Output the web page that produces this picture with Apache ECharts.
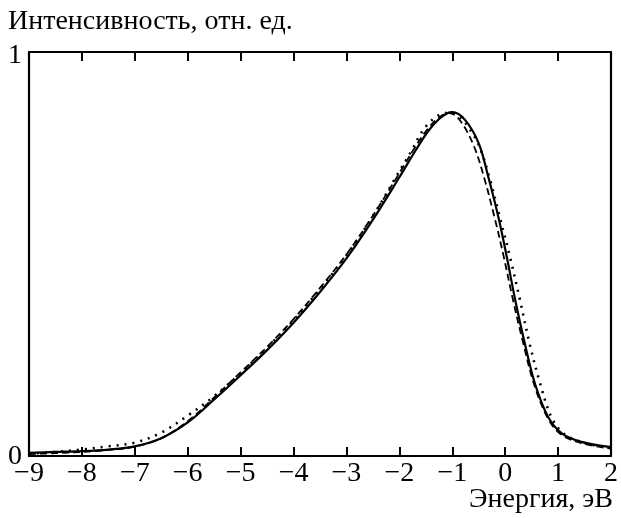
<!DOCTYPE html>
<html>
<head>
<meta charset="utf-8">
<script src="https://cdn.jsdelivr.net/npm/echarts@6/dist/echarts.min.js"></script>
<style>
html,body{margin:0;padding:0;background:#fff;}
#c{width:621px;height:518px;}
</style>
</head>
<body>
<div id="c"></div>
<script>
// Axis text
const yTitle = 'Интенсивность, отн. ед.';
const xTitle = 'Энергия, эВ';
const xTickValues = [-9, -8, -7, -6, -5, -4, -3, -2, -1, 0, 1, 2];
const xTickLabels = ['\u22129', '\u22128', '\u22127', '\u22126', '\u22125', '\u22124', '\u22123', '\u22122', '\u22121', '0', '1', '2'];
const yTickLabels = ['0', '1'];

// Solid curve
const solidX = [-9, -8.5, -8, -7.5, -7, -6.5, -6, -5.5, -5, -4.5, -4, -3.5, -3, -2.5, -2, -1.7, -1.45, -1.25, -1.1, -1.0, -0.76, -0.5, -0.32, -0.13, 0.03, 0.19, 0.37, 0.56, 0.81, 1.07, 1.44, 2.0];
const solidY = [0.008, 0.010, 0.012, 0.016, 0.024, 0.044, 0.083, 0.140, 0.200, 0.262, 0.330, 0.406, 0.489, 0.585, 0.690, 0.755, 0.805, 0.834, 0.848, 0.851, 0.832, 0.774, 0.691, 0.592, 0.493, 0.386, 0.279, 0.180, 0.097, 0.056, 0.035, 0.022];

// Dashed curve
const dashedX = [-9, -8.5, -8, -7.5, -7, -6.5, -6, -5.5, -5, -4.5, -4, -3.5, -3, -2.5, -2, -1.7, -1.45, -1.25, -1.05, -0.85, -0.6, -0.4, -0.2, -0.03, 0.15, 0.34, 0.54, 0.8, 1.05, 1.44, 2.0];
const dashedY = [0.005, 0.007, 0.010, 0.015, 0.023, 0.044, 0.086, 0.145, 0.207, 0.270, 0.339, 0.416, 0.499, 0.595, 0.700, 0.765, 0.812, 0.838, 0.849, 0.830, 0.770, 0.690, 0.590, 0.495, 0.385, 0.280, 0.180, 0.095, 0.054, 0.032, 0.018];

// Dotted curve
const dottedX = [-9, -8.5, -8, -7.5, -7, -6.5, -6, -5.5, -5, -4.5, -4, -3.5, -3, -2.5, -2, -1.75, -1.6, -1.45, -1.3, -1.15, -1.0, -0.85, -0.7, -0.5, -0.3, -0.1, 0.09, 0.28, 0.46, 0.66, 0.87, 1.1, 1.45, 2.0];
const dottedY = [0.006, 0.010, 0.016, 0.024, 0.033, 0.058, 0.100, 0.148, 0.205, 0.268, 0.336, 0.413, 0.497, 0.594, 0.705, 0.760, 0.797, 0.823, 0.840, 0.849, 0.848, 0.838, 0.815, 0.770, 0.690, 0.590, 0.493, 0.386, 0.279, 0.180, 0.097, 0.056, 0.034, 0.020];

const pairs = (xs, ys) => xs.map((x, i) => [x, ys[i]]);
const FONT = 'Liberation Serif';
const FS = 28;
const txt = {fontFamily: FONT, fontSize: FS, fontWeight: 'normal', color: '#000'};

const chart = echarts.init(document.getElementById('c'), null, {renderer: 'canvas'});
const xLabel = v => { const i = xTickValues.indexOf(v); return i >= 0 ? xTickLabels[i] : ''; };

chart.setOption({
  animation: false,
  backgroundColor: '#fff',
  textStyle: {fontFamily: FONT},
  title: [
    {text: yTitle, left: 8, top: 8, padding: 0, textStyle: txt},
    {text: xTitle, right: 8, top: 486, padding: 0, textStyle: txt}
  ],
  grid: {left: 29, right: 8, top: 52, bottom: 62},
  xAxis: [
    {type: 'value', position: 'bottom', min: -9, max: 2, interval: 1,
     axisLine: {onZero: false, lineStyle: {color: '#000', width: 2.2}},
     axisTick: {inside: true, length: 9, lineStyle: {color: '#000', width: 2}},
     axisLabel: {formatter: xLabel, fontFamily: FONT, fontSize: FS, color: '#000', margin: 4},
     splitLine: {show: false}},
    {type: 'value', position: 'top', min: -9, max: 2, interval: 1,
     axisLine: {onZero: false, lineStyle: {color: '#000', width: 2.2}},
     axisTick: {inside: true, length: 9, lineStyle: {color: '#000', width: 2}},
     axisLabel: {show: false}, splitLine: {show: false}}
  ],
  yAxis: [
    {type: 'value', position: 'left', min: 0, max: 1, interval: 1,
     axisLine: {show: true, onZero: false, lineStyle: {color: '#000', width: 2.2}},
     axisTick: {show: false},
     axisLabel: {formatter: v => v === 1 ? '{t|' + yTickLabels[1] + '}' : '{b|' + yTickLabels[0] + '}',
                 margin: 7, color: '#000',
                 rich: {t: {fontFamily: FONT, fontSize: FS, color: '#000', padding: [8, 0, 0, 0]},
                        b: {fontFamily: FONT, fontSize: FS, color: '#000', padding: [2, 0, 0, 0]}}},
     splitLine: {show: false}},
    {type: 'value', position: 'right', min: 0, max: 1, interval: 1,
     axisLine: {show: true, onZero: false, lineStyle: {color: '#000', width: 2.2}},
     axisTick: {show: false}, axisLabel: {show: false}, splitLine: {show: false}}
  ],
  series: [
    {type: 'line', data: pairs(dottedX, dottedY), smooth: 0.35, symbol: 'none',
     lineStyle: {color: '#000', width: 2.6, type: [2, 6], cap: 'butt'}},
    {type: 'line', data: pairs(dashedX, dashedY), smooth: 0.35, symbol: 'none',
     lineStyle: {color: '#000', width: 1.8, type: [7, 4], cap: 'butt'}},
    {type: 'line', data: pairs(solidX, solidY), smooth: 0.35, symbol: 'none',
     lineStyle: {color: '#000', width: 2.2, type: 'solid'}}
  ]
});
</script>
</body>
</html>
